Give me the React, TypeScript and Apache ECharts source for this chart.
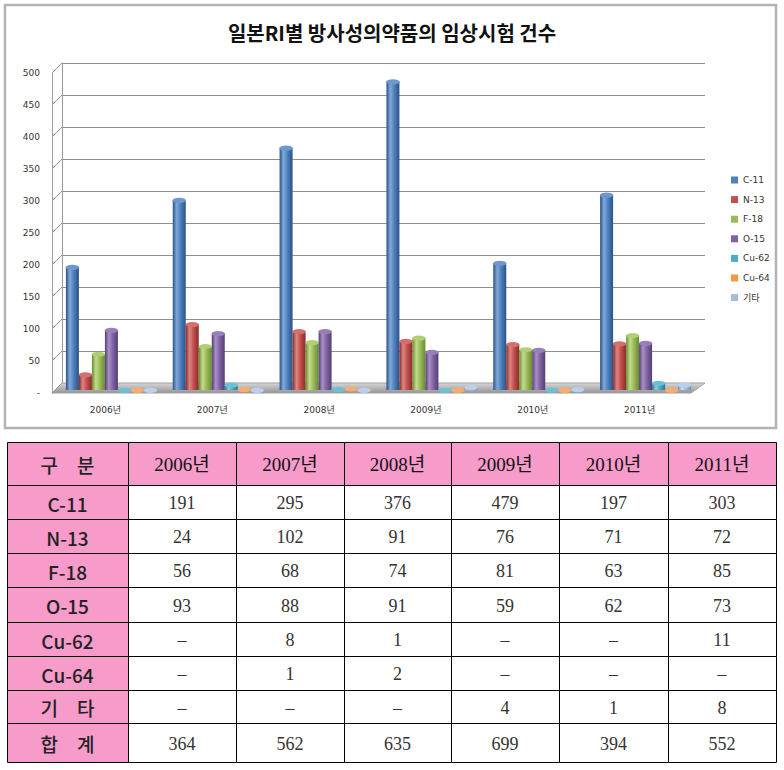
import React, { useEffect, useRef } from 'react';
import * as echarts from 'echarts';

// ---------- data ----------
const years = ['2006년', '2007년', '2008년', '2009년', '2010년', '2011년'];
const isotopes = ['C-11', 'N-13', 'F-18', 'O-15', 'Cu-62', 'Cu-64', '기타'];
const c11 = [191, 295, 376, 479, 197, 303];
const n13 = [24, 102, 91, 76, 71, 72];
const f18 = [56, 68, 74, 81, 63, 85];
const o15 = [93, 88, 91, 59, 62, 73];
const cu62 = [null, 8, 1, null, null, 11];
const cu64 = [null, 1, 2, null, null, null];
const etc = [null, null, null, 4, 1, 8];
const totals = [364, 562, 635, 699, 394, 552];
const seriesValues: (number | null)[][] = [c11, n13, f18, o15, cu62, cu64, etc];
const tableHeaderLabel = '구\u3000분';
const tableRowLabels = ['C-11', 'N-13', 'F-18', 'O-15', 'Cu-62', 'Cu-64', '기\u3000타', '합\u3000계'];
const titleText = '일본RI별 방사성의약품의 임상시험 건수';
const yMin = 0;
const yMax = 500;
const yInterval = 50;

// ---------- styles ----------
const palette = [
  { base: '#4F81BD', dark: '#2A5288', light: '#82A8DB', cap: '#6E97CF' },
  { base: '#C0504D', dark: '#8C2B28', light: '#DE8683', cap: '#D3706D' },
  { base: '#9BBB59', dark: '#6A8B2D', light: '#C2DB90', cap: '#B0CF74' },
  { base: '#8064A2', dark: '#553D75', light: '#A891C6', cap: '#9680B7' },
  { base: '#4BACC6', dark: '#277C94', light: '#88D0E2', cap: '#6CC0D6' },
  { base: '#F79646', dark: '#BD6217', light: '#FBBD88', cap: '#F9AC6B' },
  { base: '#A5BCDD', dark: '#748CB5', light: '#D0DEF1', cap: '#BDD0EB' },
];
const ellipsePath = 'path://M0,50 A50,50 0 1 1 100,50 A50,50 0 1 1 0,50 Z';
const labelFont = 'DejaVu Sans, "Noto Sans CJK KR", sans-serif';
const BAR_W = 13;

const colX = [7, 128, 236, 344, 451, 559, 668, 776];
const rowY = [442, 485, 519, 553, 587, 622, 656, 690, 723, 762];

function cylGradient(p: { base: string; dark: string; light: string }) {
  return {
    type: 'linear', x: 0, y: 0, x2: 1, y2: 0,
    colorStops: [
      { offset: 0, color: p.dark },
      { offset: 0.3, color: p.light },
      { offset: 0.6, color: p.base },
      { offset: 1, color: p.dark },
    ],
  };
}

function buildTable() {
  const els: any[] = [];
  const fmt = (v: number | null) => (v === null || v === undefined ? '–' : String(v));
  const rows: string[][] = [];
  rows.push([tableHeaderLabel, ...years]);
  seriesValues.forEach((vals, i) => rows.push([tableRowLabels[i], ...vals.map(fmt)]));
  rows.push([tableRowLabels[7], ...totals.map((v) => String(v))]);
  rows.forEach((row, r) => {
    row.forEach((txt, c) => {
      const x = colX[c];
      const y = rowY[r];
      const w = colX[c + 1] - x;
      const h = rowY[r + 1] - y;
      const pink = r === 0 || c === 0;
      els.push({
        type: 'rect', z: 5,
        shape: { x: x + 0.5, y: y + 0.5, width: w, height: h },
        style: { fill: pink ? '#F79BCB' : '#ffffff', stroke: '#000', lineWidth: 1 },
      });
      let font = '18px "Liberation Serif", "Noto Sans CJK KR", serif';
      let fill = '#333';
      if (c === 0) {
        font = '500 19px "Noto Sans CJK KR", sans-serif';
        fill = '#222';
      } else if (r === 0) {
        font = '19px "Liberation Serif", "Noto Sans CJK KR", serif';
        fill = '#111';
      }
      els.push({
        type: 'text', z: 6,
        style: {
          text: txt, x: x + w / 2, y: y + h / 2 + 1,
          align: 'center', verticalAlign: 'middle', textAlign: 'center', textVerticalAlign: 'middle',
          font, fill,
        },
      });
    });
  });
  return els;
}

function buildDecor() {
  const els: any[] = [];
  els.push({
    type: 'rect', z: 0,
    shape: { x: 5, y: 5, width: 771, height: 423 },
    style: { fill: 'none', stroke: '#b3b3b3', lineWidth: 2.5 },
  });
  els.push({
    type: 'polygon', z: 1,
    shape: { points: [[52, 393], [691, 393], [705, 383], [62, 383]] },
    style: {
      fill: {
        type: 'linear', x: 0, y: 0, x2: 0, y2: 1,
        colorStops: [{ offset: 0, color: '#d6d6d6' }, { offset: 1, color: '#959595' }],
      },
      stroke: '#a0a0a0', lineWidth: 1,
    },
  });
  const n = (yMax - yMin) / yInterval;
  for (let k = 0; k <= n; k++) {
    const yf = 393 - (320 * k) / n;
    els.push({
      type: 'line', z: 1,
      shape: { x1: 52, y1: yf, x2: 62, y2: yf - 10 },
      style: { stroke: '#999', lineWidth: 1 },
    });
  }
  return els;
}

export default function App() {
  const ref = useRef<HTMLDivElement>(null);
  useEffect(() => {
    document.body.style.margin = '0';
    if (!ref.current) return;
    const chart = echarts.init(ref.current, null, { renderer: 'svg' });
    const bars = seriesValues.map((vals, i) => ({
      type: 'bar',
      name: isotopes[i],
      xAxisIndex: 1,
      yAxisIndex: 1,
      barWidth: BAR_W,
      barGap: '0%',
      data: vals.map((v) => (v === null ? 0 : v)),
      itemStyle: { color: cylGradient(palette[i]) },
      z: 3,
    }));
    const caps = seriesValues.map((vals, i) => ({
      type: 'pictorialBar',
      name: isotopes[i] + '_cap',
      xAxisIndex: 1,
      yAxisIndex: 1,
      barWidth: BAR_W,
      barGap: '0%',
      symbol: ellipsePath,
      symbolKeepAspect: false,
      symbolSize: [BAR_W, 5],
      symbolPosition: 'end',
      symbolOffset: [0, '-50%'],
      data: vals.map((v) => (v === null ? 0 : v)),
      itemStyle: { color: palette[i].cap, borderColor: 'rgba(255,255,255,0.85)', borderWidth: 1 },
      silent: true,
      legendHoverLink: false,
      z: 4,
    }));
    chart.setOption({
      animation: false,
      backgroundColor: '#ffffff',
      title: {
        text: titleText,
        left: 'center',
        top: 17,
        textStyle: { fontSize: 20, fontWeight: 'bold', fontFamily: '"Noto Sans CJK KR", sans-serif', color: '#111' },
      },
      legend: {
        orient: 'vertical',
        left: 731,
        top: 174,
        padding: 0,
        itemWidth: 7,
        itemHeight: 7,
        itemGap: 7.6,
        icon: 'rect',
        data: isotopes.map((n, i) => ({ name: n, itemStyle: { color: palette[i].base } })),
        textStyle: { fontSize: 9, fontFamily: labelFont, color: '#333', lineHeight: 12 },
      },
      grid: [
        { left: 62, top: 63, width: 643, height: 320, outerBoundsMode: 'none' },
        { left: 58, top: 68, width: 641, height: 322, outerBoundsMode: 'none' },
        { left: 52, top: 73, width: 10, height: 320, outerBoundsMode: 'none' },
      ],
      xAxis: [
        { gridIndex: 0, type: 'category', data: years, show: false },
        {
          gridIndex: 1, type: 'category', data: years,
          axisLine: { show: false }, axisTick: { show: false },
          axisLabel: { fontSize: 9, margin: 15, color: '#333', fontFamily: labelFont, padding: [0, 12, 0, 0] },
        },
        { gridIndex: 2, type: 'value', show: false },
      ],
      yAxis: [
        {
          gridIndex: 0, type: 'value', min: yMin, max: yMax, interval: yInterval,
          axisLabel: { show: false }, axisTick: { show: false },
          axisLine: { show: true, lineStyle: { color: '#999' } },
          splitLine: { show: true, lineStyle: { color: '#8f8f8f', width: 1 } },
        },
        { gridIndex: 1, type: 'value', min: yMin, max: yMax, interval: yInterval, show: false },
        {
          gridIndex: 2, type: 'value', min: yMin, max: yMax, interval: yInterval,
          axisLine: { show: true, lineStyle: { color: '#a0a0a0' } },
          axisTick: { show: false },
          splitLine: { show: false },
          axisLabel: {
            fontSize: 9, margin: 12, color: '#333', fontFamily: labelFont,
            formatter: (v: number) => (v === 0 ? '-' : String(v)),
          },
        },
      ],
      graphic: { elements: [...buildDecor(), ...buildTable()] },
      series: [...bars, ...caps],
    } as any);
    return () => chart.dispose();
  }, []);
  return <div ref={ref} style={{ width: 784, height: 770 }} />;
}
